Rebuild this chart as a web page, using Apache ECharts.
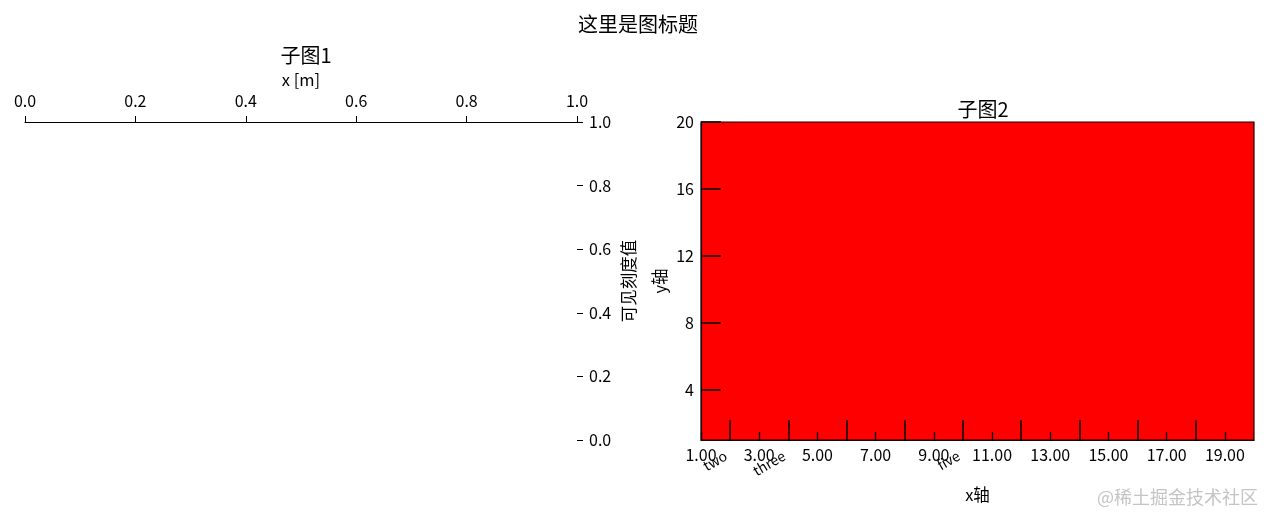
<!DOCTYPE html>
<html><head><meta charset="utf-8">
<script src="https://cdn.jsdelivr.net/npm/echarts@6/dist/echarts.min.js"></script>
<style>html,body{margin:0;padding:0;background:#fff}#c{width:1266px;height:515px}</style>
</head><body><div id="c"></div>
<script>
const mainTitle = '这里是图标题';
const subTitles = ['子图1', '子图2'];
const ax1XTicks = [0, 0.2, 0.4, 0.6, 0.8, 1.0];
const ax1YTicks = [0, 0.2, 0.4, 0.6, 0.8, 1.0];
const ax2XMajor = [1, 3, 5, 7, 9, 11, 13, 15, 17, 19];
const ax2XMinor = [2, 4, 6, 8, 10, 12, 14, 16, 18];
const ax2XMinorLabelValues = [2, 4, 10];
const ax2XMinorLabelTexts = ['two', 'three', 'five'];
const ax2YTicks = [4, 8, 12, 16, 20];
const ax2XRange = [1, 20];
const ax2YRange = [1, 20];
const axisNames = {x1: 'x [m]', y1: '可见刻度值', x2: 'x轴', y2: 'y轴'};
const watermark = '@稀土掘金技术社区';

const F = 'Noto Sans CJK SC';
const lbl = {fontFamily: F, fontSize: 16, color: '#000'};
const nameStyle = {fontFamily: F, fontSize: 16.5, color: '#000'};
const titleStyle = {fontFamily: F, fontSize: 20, fontWeight: 'normal', color: '#000'};
const chart = echarts.init(document.getElementById('c'));
const minorMap = {};
ax2XMinorLabelValues.forEach((v, i) => minorMap[v] = ax2XMinorLabelTexts[i]);

chart.setOption({
  animation: false,
  textStyle: {fontFamily: F},
  title: [
    {text: mainTitle, left: 633, top: 9, textAlign: 'center', textStyle: titleStyle},
    {text: subTitles[0], left: 301, top: 40, textAlign: 'center', textStyle: titleStyle},
    {text: subTitles[1], left: 978, top: 94, textAlign: 'center', textStyle: titleStyle}
  ],
  grid: [
    {left: 25, top: 122, width: 552, height: 318, show: false},
    {left: 701, top: 122, width: 553, height: 318, show: true, backgroundColor: '#ff0000', borderColor: '#1a0000', borderWidth: 1.2}
  ],
  xAxis: [
    {gridIndex: 0, type: 'value', position: 'top', min: ax1XTicks[0], max: ax1XTicks[ax1XTicks.length - 1],
     axisLabel: {...lbl, margin: 13, customValues: ax1XTicks, formatter: v => v.toFixed(1)},
     axisTick: {show: true, inside: false, length: 6, customValues: ax1XTicks, lineStyle: {color: '#000', width: 1}},
     axisLine: {show: true, onZero: false, lineStyle: {color: '#000', width: 1.2}},
     splitLine: {show: false},
     name: axisNames.x1, nameLocation: 'middle', nameGap: 33, nameTextStyle: nameStyle},
    {gridIndex: 1, type: 'value', position: 'bottom', min: ax2XRange[0], max: ax2XRange[1],
     axisLabel: {...lbl, margin: 7, customValues: ax2XMajor, formatter: v => v.toFixed(2)},
     axisTick: {show: true, inside: true, length: 8, customValues: ax2XMajor, lineStyle: {color: '#000', width: 1.3}},
     axisLine: {show: true, onZero: false, lineStyle: {color: '#1a0000', width: 1.2}},
     splitLine: {show: false},
     name: axisNames.x2, nameLocation: 'middle', nameGap: 46, nameTextStyle: nameStyle},
    {gridIndex: 1, type: 'value', position: 'bottom', min: ax2XRange[0], max: ax2XRange[1],
     axisLabel: {fontFamily: F, fontSize: 14, color: '#000', margin: 12, rotate: 30, padding: [0, 5, 0, 0], customValues: ax2XMinorLabelValues, formatter: v => minorMap[v] || ''},
     axisTick: {show: true, inside: true, length: 20, customValues: ax2XMinor, lineStyle: {color: '#000', width: 1.5}},
     axisLine: {show: false, onZero: false},
     splitLine: {show: false}}
  ],
  yAxis: [
    {gridIndex: 0, type: 'value', position: 'right', min: ax1YTicks[0], max: ax1YTicks[ax1YTicks.length - 1],
     axisLabel: {...lbl, margin: 12, customValues: ax1YTicks, formatter: v => v.toFixed(1)},
     axisTick: {show: true, inside: false, length: 6, customValues: ax1YTicks, lineStyle: {color: '#000', width: 1}},
     axisLine: {show: false, onZero: false},
     splitLine: {show: false},
     name: axisNames.y1, nameLocation: 'middle', nameGap: 43, nameRotate: 90, nameTextStyle: nameStyle},
    {gridIndex: 1, type: 'value', position: 'left', min: ax2YRange[0], max: ax2YRange[1],
     axisLabel: {...lbl, margin: 7, customValues: ax2YTicks},
     axisTick: {show: true, inside: true, length: 20, customValues: ax2YTicks, lineStyle: {color: '#000', width: 1.5}},
     axisLine: {show: true, onZero: false, lineStyle: {color: '#1a0000', width: 1.2}},
     splitLine: {show: false},
     name: axisNames.y2, nameLocation: 'middle', nameGap: 33, nameRotate: 90, nameTextStyle: nameStyle}
  ],
  graphic: [
    {type: 'text', right: 8, bottom: 9, style: {text: watermark, fontFamily: F, fontSize: 18, fill: '#c4c4c4'}}
  ],
  series: [
    {type: 'line', xAxisIndex: 0, yAxisIndex: 0, data: []},
    {type: 'line', xAxisIndex: 1, yAxisIndex: 1, data: []}
  ]
});
</script></body></html>
